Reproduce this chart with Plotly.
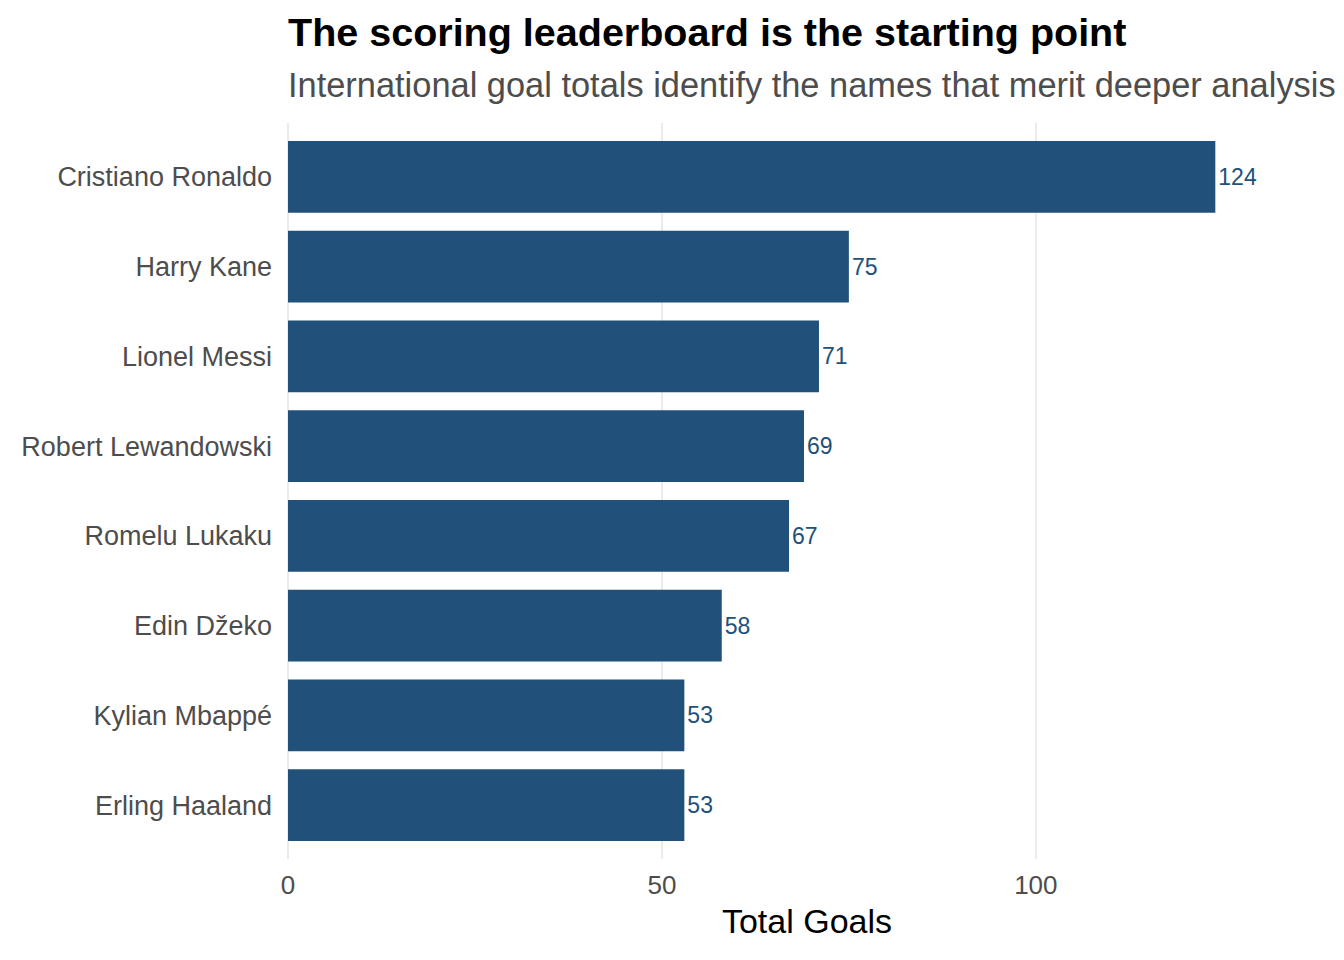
import plotly.graph_objects as go

# data
players = ["Cristiano Ronaldo", "Harry Kane", "Lionel Messi", "Robert Lewandowski",
           "Romelu Lukaku", "Edin Džeko", "Kylian Mbappé", "Erling Haaland"]
goals = [124, 75, 71, 69, 67, 58, 53, 53]
x_ticks = [0, 50, 100]

bar_col = "#21507a"
font = "Liberation Sans"

fig = go.Figure()
fig.add_trace(go.Bar(
    x=goals,
    y=players,
    orientation="h",
    width=0.8,
    marker=dict(color=bar_col, line=dict(width=0)),
    text=[str(g) for g in goals],
    textposition="outside",
    textfont=dict(family=font, size=23, color=bar_col),
    cliponaxis=False,
    hoverinfo="x+y",
))

# page body has an 8px margin, so the figure is a bit smaller than the window
fig.update_layout(
    width=1336, height=952,
    margin=dict(l=280, r=18, t=115, b=101),
    plot_bgcolor="white", paper_bgcolor="white",
    showlegend=False,
    font=dict(family=font),
    xaxis=dict(
        range=[0, 138.8],
        tickvals=x_ticks,
        ticktext=[str(t) for t in x_ticks],
        tickfont=dict(size=26, color="#4d4d4d"),
        showgrid=True, gridcolor="#ebebeb", gridwidth=2.2,
        zeroline=True, zerolinecolor="#ebebeb", zerolinewidth=2.2,
        showline=False, ticks="",
        ticklabelstandoff=8,
        title=dict(text="Total Goals", font=dict(size=34, color="black"), standoff=10),
    ),
    yaxis=dict(
        categoryorder="array", categoryarray=players,
        range=[7.6, -0.6],
        tickfont=dict(size=27, color="#4d4d4d"),
        showgrid=False, zeroline=False, showline=False, ticks="",
        ticklabelstandoff=15,
    ),
    annotations=[
        dict(text="<b>The scoring leaderboard is the starting point</b>",
             xref="paper", yref="paper", x=0, y=1.1236, xshift=-2,
             xanchor="left", yanchor="middle", showarrow=False,
             font=dict(size=39.5, color="black")),
        dict(text="International goal totals identify the names that merit deeper analysis",
             xref="paper", yref="paper", x=0, y=1.0516, xshift=-2,
             xanchor="left", yanchor="middle", showarrow=False,
             font=dict(size=34.4, color="#4d4d4d")),
    ],
)

fig.write_html("out.html")
